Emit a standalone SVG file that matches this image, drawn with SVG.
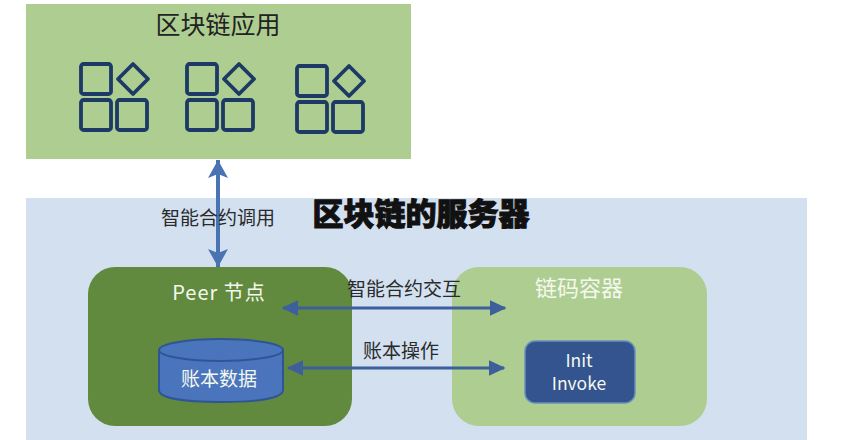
<svg xmlns="http://www.w3.org/2000/svg" width="842" height="440" viewBox="0 0 842 440">
<defs>
<marker id="ah" markerWidth="6" markerHeight="6" refX="5" refY="3" orient="auto-start-reverse" markerUnits="strokeWidth"><path d="M0 .4L5.500 3L0 5.600Z" fill="#3d5f9c"/></marker>
<marker id="av" markerWidth="5" markerHeight="6" refX="4.500" refY="2.500" orient="auto-start-reverse" markerUnits="strokeWidth"><path d="M0 0L4.500 2.500L0 5L1 2.500Z" fill="#4a73b4"/></marker>
<g id="icon" fill="none" stroke="#1d3a66" stroke-width="3.800" stroke-linejoin="round">
<rect x="0" y="0" width="30" height="30" rx="2.500"/>
<path d="M52 0L67 15L52 30L37 15Z"/>
<rect x="0" y="36" width="30" height="30" rx="2.500"/>
<rect x="36" y="36" width="30" height="30" rx="2.500"/>
</g>
</defs>
<style>
text{font-family:"Noto Sans CJK SC","Liberation Sans",sans-serif;text-anchor:middle}
.lbl{font-size:19px;fill:#2a2a2a}
.w{fill:#f4f8ee}
.title{font-size:31px;font-weight:900;fill:#111;stroke:#111;stroke-width:1px}
</style>
<rect width="842" height="440" fill="#fff"/>
<g id="server">
<rect x="26" y="198" width="781" height="242" fill="#d2e0f0"/>
<text class="title" x="421" y="225">区块链的服务器</text>
</g>
<g id="app">
<rect x="26" y="4" width="385" height="155" fill="#aecd91"/>
<text x="218" y="34" font-size="25" fill="#222">区块链应用</text>
<use href="#icon" x="81" y="64"/>
<use href="#icon" x="187" y="64"/>
<use href="#icon" x="297" y="66"/>
</g>
<g id="peer">
<rect x="88" y="267" width="264" height="159" rx="27" fill="#628a3e"/>
<text class="w" x="219" y="300" font-size="20" letter-spacing="1">Peer 节点</text>
</g>
<g id="ledger">
<path d="M159 350V390C159 398 184 402 221 402S283 398 283 390V350Z" fill="#4a75bd" stroke="#2f5596" stroke-width="2"/>
<ellipse cx="221" cy="350" rx="62" ry="11" fill="#4a75bd" stroke="#2f5596" stroke-width="2"/>
<text class="w" x="219" y="386" font-size="19">账本数据</text>
</g>
<g id="container">
<rect x="452" y="267" width="255" height="159" rx="27" fill="#aecd91"/>
<text class="w" x="579" y="296" font-size="22">链码容器</text>
</g>
<g id="init">
<rect x="525" y="341" width="110" height="62" rx="10" fill="#33548f" stroke="#6a8fbb" stroke-width="1.500"/>
<text class="w" x="579" y="367" font-size="17.500">Init</text>
<text class="w" x="579" y="390" font-size="17.500">Invoke</text>
</g>
<g id="connectors" fill="none">
<path d="M218 160V267" stroke="#4a73b4" stroke-width="4" marker-start="url(#av)" marker-end="url(#av)"/>
<path d="M283 308H505" stroke="#3d5f9c" stroke-width="3" marker-start="url(#ah)" marker-end="url(#ah)"/>
<path d="M288 368H504" stroke="#3d5f9c" stroke-width="3" marker-start="url(#ah)" marker-end="url(#ah)"/>
</g>
<g id="labels">
<text class="lbl" x="218" y="225">智能合约调用</text>
<text class="lbl" x="404" y="296">智能合约交互</text>
<text class="lbl" x="401" y="358">账本操作</text>
</g>
</svg>
